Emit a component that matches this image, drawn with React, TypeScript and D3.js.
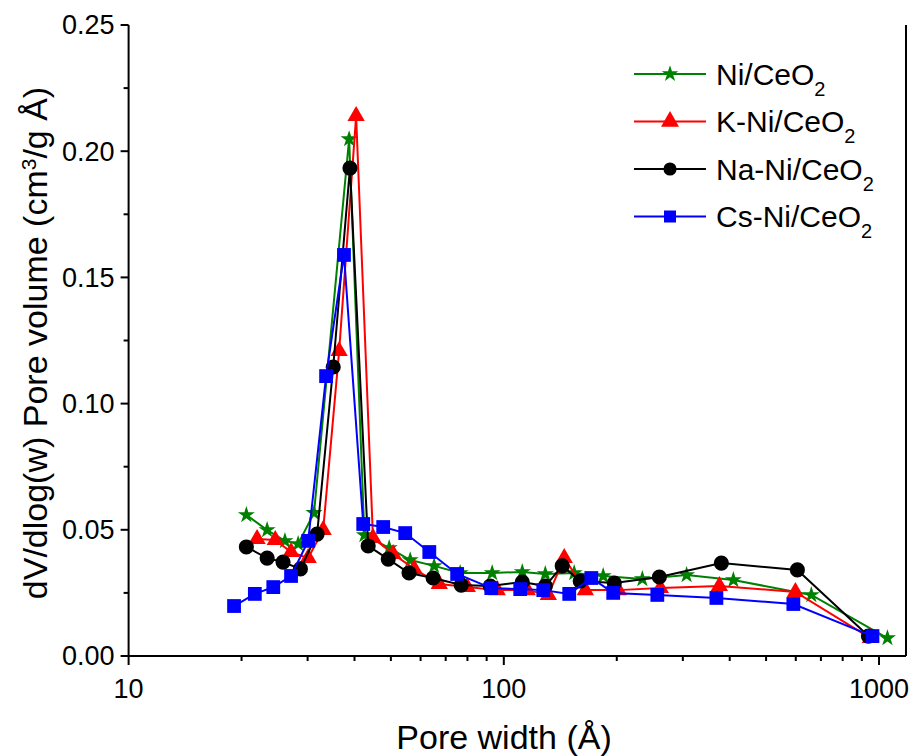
import React from "react";
import * as d3 from "d3";

const niX = [20.6, 23.4, 26.1, 28.3, 31.2, 38.7, 42.5, 49.5, 56.3, 65.2, 76.5, 93.1, 112, 129, 154, 184, 234, 307, 409, 660, 1053];
const niY = [0.0559, 0.0499, 0.0456, 0.0444, 0.0567, 0.2048, 0.0479, 0.0428, 0.038, 0.0357, 0.0329, 0.0329, 0.0333, 0.0325, 0.0329, 0.0317, 0.0305, 0.0321, 0.0301, 0.0242, 0.0071];

const kX = [22.0, 24.6, 27.1, 30.1, 33.0, 36.4, 40.4, 44.8, 50.7, 57.7, 67.3, 79.9, 96.0, 115.5, 131.4, 144.9, 164.9, 201.9, 261.3, 375.4, 598.5, 948.7];
const kY = [0.0464, 0.046, 0.0412, 0.0388, 0.0499, 0.1208, 0.2139, 0.0468, 0.0404, 0.0345, 0.0285, 0.0273, 0.0261, 0.0261, 0.0242, 0.0388, 0.0261, 0.0261, 0.0269, 0.0277, 0.0254, 0.0071];

const naX = [20.6, 23.4, 25.8, 28.7, 31.8, 35.1, 38.9, 43.5, 49.2, 55.9, 64.8, 77.0, 92.0, 112.0, 129.0, 143.1, 159.8, 197.0, 259.7, 380.0, 605.9, 937.0];
const naY = [0.0432, 0.0388, 0.0372, 0.0345, 0.0483, 0.1145, 0.1933, 0.0436, 0.0384, 0.0329, 0.0309, 0.0281, 0.0277, 0.0293, 0.0277, 0.0357, 0.0297, 0.0289, 0.0313, 0.0368, 0.0341, 0.0079];

const csX = [19.1, 21.7, 24.3, 27.1, 30.1, 33.6, 37.5, 42.2, 47.7, 54.6, 63.3, 75.1, 92.6, 110.6, 127.4, 149.4, 171.1, 195.7, 256.5, 368.6, 591.1, 960.5];
const csY = [0.0198, 0.0246, 0.0273, 0.0317, 0.0456, 0.1109, 0.1589, 0.0523, 0.0511, 0.0487, 0.0412, 0.0325, 0.0269, 0.0265, 0.0261, 0.0246, 0.0309, 0.025, 0.0242, 0.023, 0.0206, 0.0079];

const seriesNames = ["Ni/CeO", "K-Ni/CeO", "Na-Ni/CeO", "Cs-Ni/CeO"];
const seriesColors = ["#008000", "#ff0000", "#000000", "#0000ff"];
const yTicks = [0, 0.05, 0.1, 0.15, 0.2, 0.25];
const yMinor = [0.025, 0.075, 0.125, 0.175, 0.225];
const xMajor = [10, 100, 1000];
const xMinor = [20, 30, 40, 50, 60, 70, 80, 90, 200, 300, 400, 500, 600, 700, 800, 900];

const FONT = "'Liberation Sans', Arial, Helvetica, sans-serif";

export default function App() {
  const left = 128.6, right = 906, top = 25, bottom = 656;
  const x = d3.scaleLog().domain([10, 1180]).range([left, right]);
  const y = d3.scaleLinear().domain([0, 0.25]).range([bottom, top]);

  const data = [
    { xs: niX, ys: niY, sym: d3.symbolStar, size: 90, lsize: 85 },
    { xs: kX, ys: kY, sym: d3.symbolTriangle, size: 130, lsize: 140 },
    { xs: naX, ys: naY, sym: d3.symbolCircle, size: 180, lsize: 135 },
    { xs: csX, ys: csY, sym: d3.symbolSquare, size: 190, lsize: 144 },
  ];

  const line = d3.line<[number, number]>().x((d) => x(d[0])).y((d) => y(d[1]));

  return (
    <svg width={912} height={756} style={{ position: "absolute", left: 0, top: 0, background: "#fff" }} fontFamily={FONT}>
      {data.map((s, i) => {
        const pts: [number, number][] = s.xs.map((v, j) => [v, s.ys[j]]);
        const path = d3.symbol().type(s.sym).size(s.size)();
        return (
          <g key={i}>
            <path d={line(pts) || ""} fill="none" stroke={seriesColors[i]} strokeWidth={2} />
            {pts.map((p, j) => (
              <path key={j} d={path || ""} transform={`translate(${x(p[0])},${y(p[1])})`} fill={seriesColors[i]} />
            ))}
          </g>
        );
      })}

      <line x1={left} x2={left} y1={top} y2={bottom} stroke="#000" strokeWidth={2} />
      <line x1={left} x2={right} y1={bottom} y2={bottom} stroke="#000" strokeWidth={2} />
      <line x1={right} x2={right} y1={top} y2={bottom} stroke="#000" strokeWidth={2} />

      {yTicks.map((t) => (
        <g key={t}>
          <line x1={left - 8} x2={left} y1={y(t)} y2={y(t)} stroke="#000" strokeWidth={2} />
          <text x={left - 14} y={y(t)} dy="0.35em" textAnchor="end" fontSize={27}>
            {t.toFixed(2)}
          </text>
        </g>
      ))}
      {yMinor.map((t) => (
        <line key={t} x1={left - 5} x2={left} y1={y(t)} y2={y(t)} stroke="#000" strokeWidth={2} />
      ))}
      {xMajor.map((t) => (
        <g key={t}>
          <line x1={x(t)} x2={x(t)} y1={bottom} y2={bottom + 9} stroke="#000" strokeWidth={2} />
          <text x={x(t)} y={bottom + 42} textAnchor="middle" fontSize={27}>
            {t}
          </text>
        </g>
      ))}
      {xMinor.map((t) => (
        <line key={t} x1={x(t)} x2={x(t)} y1={bottom} y2={bottom + 5} stroke="#000" strokeWidth={2} />
      ))}

      <text x={504} y={749} textAnchor="middle" fontSize={34}>
        Pore width (Å)
      </text>
      <text transform="translate(47,343) rotate(-90)" textAnchor="middle" fontSize={34}>
        dV/dlog(w) Pore volume (cm
        <tspan baselineShift="super" fontSize={21}>3</tspan>
        /g Å)
      </text>

      {data.map((s, i) => {
        const ly = 74 + i * 47.5;
        const path = d3.symbol().type(s.sym).size(s.lsize)();
        return (
          <g key={i}>
            <line x1={634} x2={706} y1={ly} y2={ly} stroke={seriesColors[i]} strokeWidth={2} />
            <path d={path || ""} transform={`translate(670,${ly})`} fill={seriesColors[i]} />
            <text x={716} y={ly} dy="0.36em" fontSize={30}>
              {seriesNames[i]}
              <tspan baselineShift="sub" fontSize={20}>2</tspan>
            </text>
          </g>
        );
      })}
    </svg>
  );
}
